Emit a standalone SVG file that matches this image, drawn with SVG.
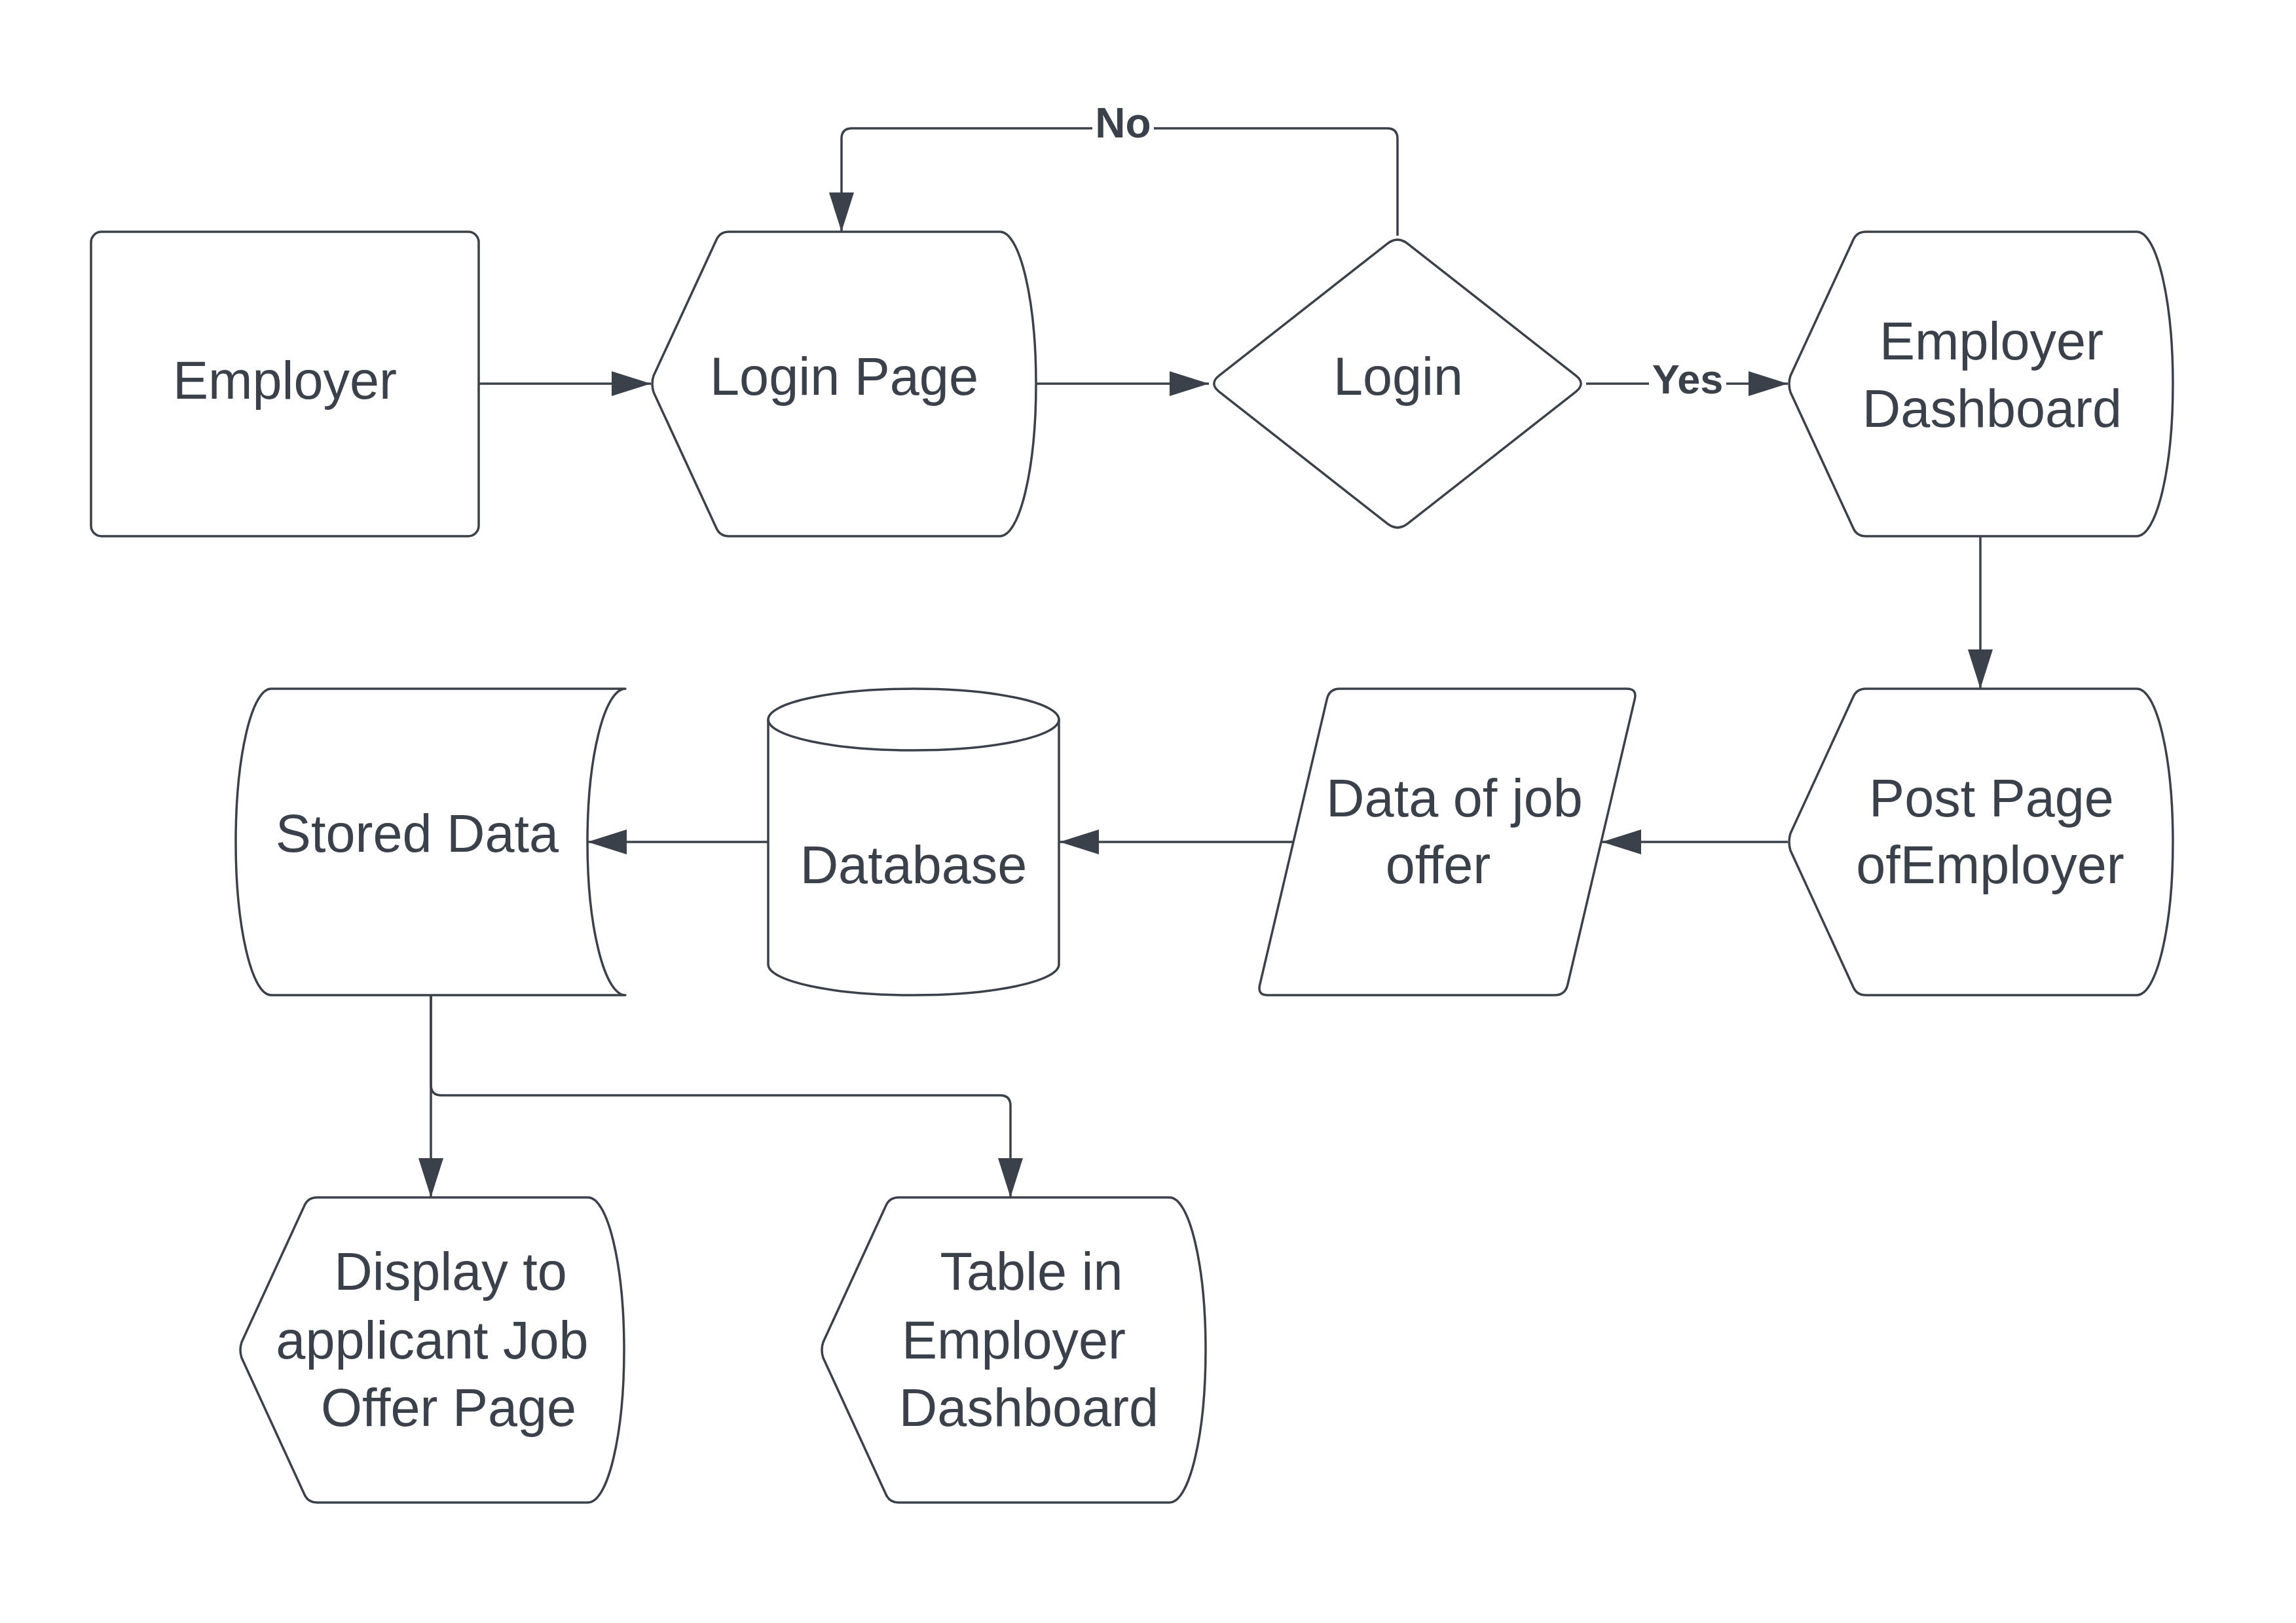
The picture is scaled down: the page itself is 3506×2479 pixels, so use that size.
<svg xmlns="http://www.w3.org/2000/svg" width="3506" height="2479" viewBox="0 0 3506 2479">
<style>
.shape{fill:#ffffff;stroke:#3a414a;stroke-width:3.5;stroke-linejoin:round}
.conn{fill:none;stroke:#3a414a;stroke-width:3.5}
.t{font-family:"Liberation Sans",Arial,sans-serif;font-size:81px;fill:#3a414a;text-anchor:middle}
.lbl{font-family:"Liberation Sans",Arial,sans-serif;font-size:64px;font-weight:bold;fill:#3a414a;text-anchor:middle}
</style>
<defs>
<marker id="arr" markerUnits="userSpaceOnUse" markerWidth="62" markerHeight="40" refX="60" refY="19" orient="auto">
<path d="M0,0 L60,19 L0,38 Z" fill="#3a414a"/>
</marker>
</defs>
<rect x="0" y="0" width="3506" height="2479" fill="#ffffff"/>

<g id="connectors">
<path class="conn" d="M731 586 L994 586" marker-end="url(#arr)"/>
<path class="conn" d="M1582 586 L1846 586" marker-end="url(#arr)"/>
<path class="conn" d="M2422 586 L2730 586" marker-end="url(#arr)"/>
<path class="conn" d="M2134 360 L2134 212 Q2134 196 2118 196 L1301 196 Q1285 196 1285 212 L1285 354" marker-end="url(#arr)"/>
<path class="conn" d="M3024 819 L3024 1052" marker-end="url(#arr)"/>
<path class="conn" d="M2730 1286 L2446 1286" marker-end="url(#arr)"/>
<path class="conn" d="M1975 1286 L1618 1286" marker-end="url(#arr)"/>
<path class="conn" d="M1173 1286 L897 1286" marker-end="url(#arr)"/>
<path class="conn" d="M658 1520 L658 1829" marker-end="url(#arr)"/>
<path class="conn" d="M658 1520 L658 1657 Q658 1673 674 1673 L1527 1673 Q1543 1673 1543 1689 L1543 1829" marker-end="url(#arr)"/>
<rect x="1668" y="170" width="94" height="50" fill="#ffffff"/>
<text class="lbl" x="1715" y="210">No</text>
<rect x="2518" y="550" width="118" height="60" fill="#ffffff"/>
<text class="lbl" x="2577" y="601" style="font-size:63px">Yes</text>
</g>

<g id="employer">
<rect class="shape" x="139" y="354" width="592" height="465" rx="16"/>
<text class="t" x="435" y="609">Employer</text>
</g>

<g id="login-page">
<path class="shape" d="M1113 354 L1527 354 A55 232.5 0 0 1 1527 819 L1113 819 Q1099 819 1093.6 806 L998 599 Q994 586.5 998 574 L1093.6 367 Q1099 354 1113 354 Z"/>
<text class="t" x="1289" y="603">Login Page</text>
</g>

<g id="login">
<path class="shape" d="M2118.3 372.3 Q2134 360 2149.7 372.3 L2406.3 573.7 Q2422 586 2406.3 598.3 L2149.7 799.7 Q2134 812 2118.3 799.7 L1861.7 598.3 Q1846 586 1861.7 573.7 Z"/>
<text class="t" x="2135" y="603">Login</text>
</g>

<g id="employer-dashboard">
<path class="shape" d="M2849 354 L3263 354 A55 232.5 0 0 1 3263 819 L2849 819 Q2835 819 2829.6 806 L2734 599 Q2730 586.5 2734 574 L2829.6 367 Q2835 354 2849 354 Z"/>
<text class="t" x="3041" y="549">Employer</text>
<text class="t" x="3042" y="652">Dashboard</text>
</g>

<g id="post-page">
<path class="shape" d="M2849 1052 L3263 1052 A55 234 0 0 1 3263 1520 L2849 1520 Q2835 1520 2829.6 1507 L2734 1299 Q2730 1286 2734 1273 L2829.6 1065 Q2835 1052 2849 1052 Z"/>
<text class="t" x="3041" y="1247">Post Page</text>
<text class="t" x="3039" y="1349">ofEmployer</text>
</g>

<g id="data-of-job-offer">
<path class="shape" d="M2046 1052 L2484 1052 Q2500 1052 2496.3 1067.6 L2393.7 1504.4 Q2390 1520 2374 1520 L1936 1520 Q1920 1520 1923.7 1504.4 L2026.3 1067.6 Q2030 1052 2046 1052 Z"/>
<text class="t" x="2221" y="1247">Data of job</text>
<text class="t" x="2196" y="1349">offer</text>
</g>

<g id="database">
<path class="shape" d="M1173 1099 L1173 1473 A222 47 0 0 0 1617 1473 L1617 1099 A222 47 0 0 0 1173 1099 Z"/>
<path class="shape" fill="none" d="M1173 1099 A222 47 0 0 0 1617 1099"/>
<text class="t" x="1395" y="1349">Database</text>
</g>

<g id="stored-data">
<path class="shape" d="M414 1052 L955 1052 A58 234 0 0 0 955 1520 L414 1520 A54 234 0 0 1 414 1052 Z"/>
<text class="t" x="637" y="1301">Stored Data</text>
</g>

<g id="display-applicant">
<path class="shape" d="M484 1829 L898 1829 A55 233 0 0 1 898 2295 L484 2295 Q470 2295 464.6 2282 L369 2074 Q365 2062 369 2050 L464.6 1842 Q470 1829 484 1829 Z"/>
<text class="t" x="688" y="1970">Display to</text>
<text class="t" x="660" y="2075">applicant Job</text>
<text class="t" x="685" y="2178">Offer Page</text>
</g>

<g id="table-employer-dashboard">
<path class="shape" d="M1372 1829 L1786 1829 A55 233 0 0 1 1786 2295 L1372 2295 Q1358 2295 1352.6 2282 L1257 2074 Q1253 2062 1257 2050 L1352.6 1842 Q1358 1829 1372 1829 Z"/>
<text class="t" x="1575" y="1970">Table in</text>
<text class="t" x="1548" y="2075">Employer</text>
<text class="t" x="1571" y="2178">Dashboard</text>
</g>
</svg>
